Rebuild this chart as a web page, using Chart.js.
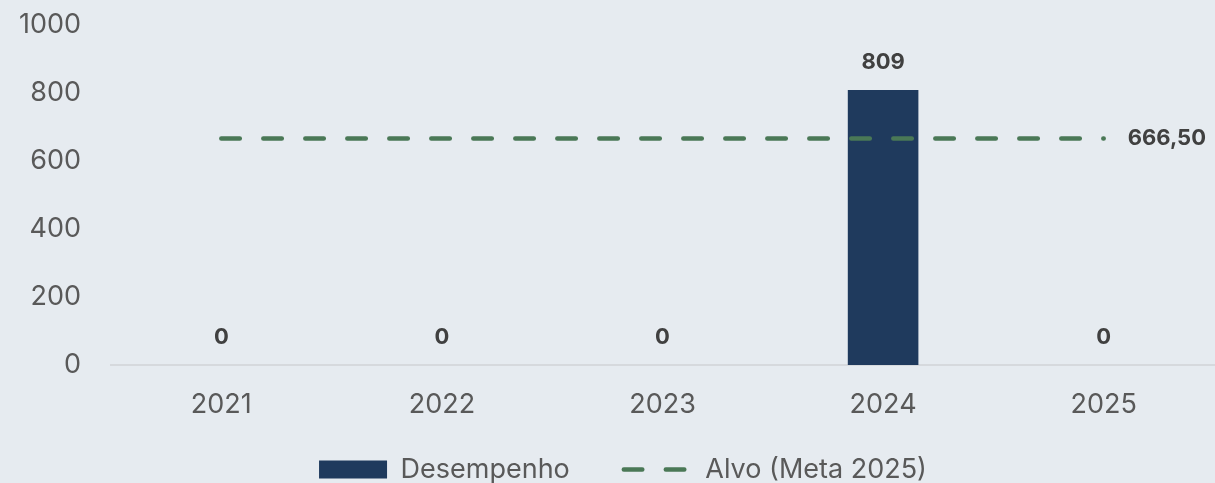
<!DOCTYPE html>
<html>
<head>
<meta charset="utf-8">
<script src="https://cdn.jsdelivr.net/npm/chart.js@4.4.1/dist/chart.umd.min.js"></script>
<style>
  html, body { margin: 0; padding: 0; background: #e6ebf0; }
  #wrap { width: 1215px; height: 483px; position: relative; }
</style>
</head>
<body>
<div id="wrap"><canvas id="chart"></canvas></div>
<script>
// Chart data
const years = ["2021", "2022", "2023", "2024", "2025"];
const desempenho = [0, 0, 0, 809, 0];
const alvo = [666.5, 666.5, 666.5, 666.5, 666.5];
const yTicks = [0, 200, 400, 600, 800, 1000];

const navy = "#1f3a5d";
const green = "#4a7856";
const textGrey = "#595959";
const labelDark = "#404040";
const fontFamily = "Inter, 'Noto Sans', sans-serif";

// Value labels above the bars and at the end of the target line
const valueLabels = {
  id: "valueLabels",
  afterDatasetsDraw(chart) {
    const ctx = chart.ctx;
    ctx.save();
    ctx.fillStyle = labelDark;
    ctx.font = "bold 22px " + fontFamily;
    ctx.textBaseline = "middle";

    const barMeta = chart.getDatasetMeta(0);
    ctx.textAlign = "center";
    barMeta.data.forEach((bar, i) => {
      ctx.fillText(String(desempenho[i]), bar.x, bar.y - 28);
    });

    const lineMeta = chart.getDatasetMeta(1);
    const last = lineMeta.data[lineMeta.data.length - 1];
    ctx.textAlign = "left";
    ctx.fillText(alvo[alvo.length - 1].toFixed(2).replace(".", ","), last.x + 24, last.y);
    ctx.restore();
  }
};

// Fixed legend height, then nudge it so it sits like the original
const legendPlace = {
  id: "legendPlace",
  beforeInit(chart) {
    const fit = chart.legend.fit;
    chart.legend.fit = function () {
      fit.call(this);
      this.height = 63;
    };
  },
  afterLayout(chart) {
    const lg = chart.legend;
    lg.top -= 18;
    lg.bottom = chart.height;
    lg.height = lg.bottom - lg.top;
    lg.left += 16;
    lg.right += 16;
  }
};

new Chart(document.getElementById("chart"), {
  type: "bar",
  data: {
    labels: years,
    datasets: [
      {
        label: "Desempenho",
        data: desempenho,
        backgroundColor: navy,
        barPercentage: 0.32,
        categoryPercentage: 1,
        order: 1
      },
      {
        type: "line",
        label: "Alvo (Meta 2025)",
        data: alvo,
        borderColor: green,
        borderWidth: 4.5,
        borderDash: [18.5, 23.5],
        borderCapStyle: "round",
        pointRadius: 0,
        fill: false,
        order: 0
      }
    ]
  },
  options: {
    responsive: true,
    maintainAspectRatio: false,
    animation: false,
    layout: { padding: { top: 25, right: 1, left: 0, bottom: 0 } },
    plugins: {
      tooltip: { enabled: false },
      legend: {
        position: "bottom",
        labels: {
          usePointStyle: true,
          pointStyleWidth: 68,
          boxHeight: 18,
          padding: 54,
          color: textGrey,
          font: { family: fontFamily, size: 27 },
          sort: (a, b) => a.datasetIndex - b.datasetIndex,
          generateLabels(chart) {
            const items = Chart.defaults.plugins.legend.labels.generateLabels(chart);
            items.forEach(item => {
              if (item.datasetIndex === 0) {
                item.pointStyle = "rect";
                item.fillStyle = navy;
                item.lineWidth = 0;
              } else {
                item.pointStyle = "line";
                item.strokeStyle = green;
                item.lineWidth = 4.5;
                item.lineDash = [18.5, 23.5];
                item.lineDashOffset = 0;
                item.lineCap = "round";
              }
            });
            return items;
          }
        }
      }
    },
    scales: {
      x: {
        grid: { display: false, drawTicks: false },
        border: { display: true, color: "#d6d9dd", width: 2 },
        ticks: {
          color: textGrey,
          font: { family: fontFamily, size: 27 },
          padding: 24
        },
        afterFit(scale) { scale.height = 55; }
      },
      y: {
        min: 0,
        max: 1000,
        // tick marks are hidden, their length only spaces the labels from the plot
        grid: { display: false, drawTicks: true, tickLength: 27 },
        border: { display: false },
        afterBuildTicks(scale) { scale.ticks = yTicks.map(v => ({ value: v })); },
        ticks: {
          color: textGrey,
          font: { family: fontFamily, size: 27 },
          padding: 3,
          callback: (value) => String(value)
        },
        afterFit(scale) { scale.width = 111; }
      }
    }
  },
  plugins: [valueLabels, legendPlace]
});
</script>
</body>
</html>
